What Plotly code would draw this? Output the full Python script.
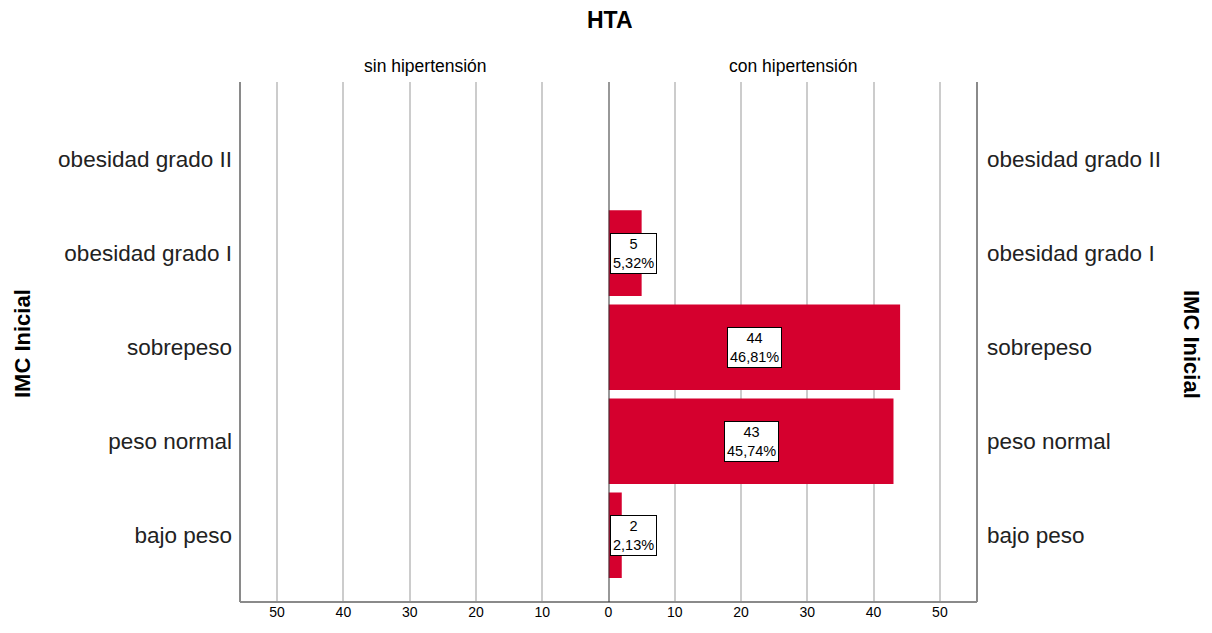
import plotly.graph_objects as go

categories = ["bajo peso", "peso normal", "sobrepeso", "obesidad grado I", "obesidad grado II"]
sin_hta = [0, 0, 0, 0, 0]
con_hta = [2, 43, 44, 5, 0]
con_pct = ["2,13%", "45,74%", "46,81%", "5,32%", ""]
x_ticks = [0, 10, 20, 30, 40, 50]
left_ticktext = ["", "10", "20", "30", "40", "50"]
right_ticktext = ["0", "10", "20", "30", "40", "50"]

FONT = "Liberation Sans, Arial, sans-serif"
BAR = "rgb(213,0,46)"
XMAX = 55.6

# page-pixel layout (browser body offsets the figure by 8px)
OFF = 8
PL, PR, PT, PB = 240 - OFF, 977 - OFF, 82 - OFF, 602 - OFF
W, H = 1212, 633
PW, PH = PR - PL, PB - PT


def px_x(page_x):
    return (page_x - OFF - PL) / PW


def px_y(page_y):
    return (PB - (page_y - OFF)) / PH


fig = go.Figure()
fig.add_trace(go.Bar(y=categories, x=sin_hta, orientation="h", xaxis="x", yaxis="y",
                     marker=dict(color=BAR, line=dict(width=0)), showlegend=False, hoverinfo="skip"))
fig.add_trace(go.Bar(y=categories, x=con_hta, orientation="h", xaxis="x2", yaxis="y2",
                     marker=dict(color=BAR, line=dict(width=0)), showlegend=False))

annotations = []
for c, v, p in zip(categories, con_hta, con_pct):
    if v <= 0:
        continue
    if v / 2 < 4.8:
        xa, xanch = 0.25, "left"
    else:
        xa, xanch = v / 2, "center"
    annotations.append(dict(x=xa, y=c, xref="x2", yref="y2", text=f"{v}<br>{p}",
                            showarrow=False, xanchor=xanch, yanchor="middle",
                            font=dict(family=FONT, size=14.5, color="black"),
                            bgcolor="white", bordercolor="black", borderwidth=1, borderpad=2))

annotations += [
    dict(text="<b>HTA</b>", x=px_x(610), y=px_y(20), xref="paper", yref="paper", showarrow=False,
         xanchor="center", yanchor="middle", height=22, valign="middle",
         font=dict(family=FONT, size=23, color="black")),
    dict(text="sin hipertensión", x=px_x(425), y=px_y(66), xref="paper", yref="paper", showarrow=False,
         xanchor="center", yanchor="middle", font=dict(family=FONT, size=17.5, color="black")),
    dict(text="con hipertensión", x=px_x(793), y=px_y(66), xref="paper", yref="paper", showarrow=False,
         xanchor="center", yanchor="middle", font=dict(family=FONT, size=17.5, color="black")),
    dict(text="<b>IMC Inicial</b>", x=px_x(22), y=px_y(344), xref="paper", yref="paper", showarrow=False,
         textangle=-90, font=dict(family=FONT, size=22, color="black"),
         xanchor="center", yanchor="middle"),
    dict(text="<b>IMC Inicial</b>", x=px_x(1192), y=px_y(344), xref="paper", yref="paper", showarrow=False,
         textangle=90, font=dict(family=FONT, size=22, color="black"),
         xanchor="center", yanchor="middle"),
]

FRAME = "#8a8a8a"
shapes = [
    dict(type="line", xref="paper", yref="paper", x0=0, x1=0, y0=0, y1=1,
         line=dict(color=FRAME, width=2)),
    dict(type="line", xref="paper", yref="paper", x0=1, x1=1, y0=0, y1=1,
         line=dict(color=FRAME, width=2)),
    dict(type="line", xref="paper", yref="paper", x0=0, x1=1, y0=0, y1=0,
         line=dict(color=FRAME, width=2)),
    dict(type="line", xref="x2", yref="paper", x0=0, x1=0, y0=0, y1=1,
         line=dict(color="#333333", width=2)),
]

axis_common = dict(showline=False, zeroline=False, showgrid=True, gridcolor="#cccccc", gridwidth=1.6,
                   tickvals=x_ticks, ticks="", tickfont=dict(family=FONT, size=14, color="black"),
                   fixedrange=True)
ycommon = dict(type="category", categoryarray=categories, range=[-0.71, 4.82], showgrid=False,
               zeroline=False, showline=False, ticks="",
               tickfont=dict(family=FONT, size=22.5, color="#222222"))

fig.update_layout(
    width=W, height=H,
    margin=dict(l=PL, r=W - PR, t=PT, b=H - PB, autoexpand=False),
    paper_bgcolor="white", plot_bgcolor="white",
    bargap=0.09,
    xaxis=dict(domain=[0, 0.5], range=[XMAX, 0], anchor="y", ticktext=left_ticktext, **axis_common),
    xaxis2=dict(domain=[0.5, 1], range=[0, XMAX], anchor="y2", ticktext=right_ticktext, **axis_common),
    yaxis=dict(anchor="x", side="left", ticklabelstandoff=7, **ycommon),
    yaxis2=dict(anchor="x2", side="right", overlaying="y", ticklabelstandoff=9, **ycommon),
    annotations=annotations,
    shapes=shapes,
)

fig.write_html("out.html")
